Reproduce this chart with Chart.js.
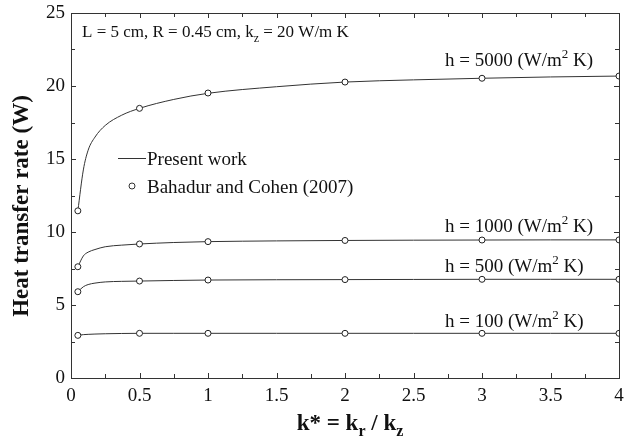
<!DOCTYPE html>
<html>
<head>
<meta charset="utf-8">
<script src="https://cdn.jsdelivr.net/npm/chart.js@4.4.0/dist/chart.umd.min.js"></script>
<style>
  html, body { margin: 0; padding: 0; background: #fff; }
  #wrap { width: 628px; height: 445px; }
</style>
</head>
<body>
<div id="wrap"><canvas id="myChart" width="628" height="445"></canvas></div>
<script>
// Bahadur and Cohen (2007) points
const kStar = [0.05, 0.5, 1, 2, 3, 4];
const bahadur5000 = [11.45, 18.47, 19.52, 20.27, 20.53, 20.68];
const bahadur1000 = [7.62, 9.18, 9.34, 9.42, 9.45, 9.46];
const bahadur500 = [5.91, 6.64, 6.71, 6.74, 6.76, 6.76];
const bahadur100 = [2.92, 3.06, 3.06, 3.06, 3.06, 3.06];

// Present work curves
const kLine = [0.05, 0.09, 0.125, 0.175, 0.25, 0.37, 0.5, 0.75, 1, 1.5, 2, 2.5, 3, 3.5, 4];
const present5000 = [11.45, 14.25, 15.6, 16.5, 17.3, 18.0, 18.47, 19.08, 19.5, 19.95, 20.27, 20.42, 20.53, 20.62, 20.68];
const present1000 = [7.62, 8.36, 8.62, 8.8, 8.99, 9.1, 9.18, 9.28, 9.34, 9.39, 9.42, 9.44, 9.45, 9.46, 9.46];
const present500 = [5.91, 6.25, 6.4, 6.5, 6.58, 6.62, 6.64, 6.68, 6.71, 6.73, 6.74, 6.75, 6.76, 6.76, 6.76];
const present100 = [2.92, 2.97, 2.99, 3.01, 3.03, 3.05, 3.06, 3.06, 3.06, 3.06, 3.06, 3.06, 3.06, 3.06, 3.06];

const xTicks = [0, 0.5, 1, 1.5, 2, 2.5, 3, 3.5, 4];
const xTickLabels = ['0', '0.5', '1', '1.5', '2', '2.5', '3', '3.5', '4'];
const yTicks = [0, 5, 10, 15, 20, 25];

const SERIF = '"Liberation Serif", "Times New Roman", serif';

function pts(xs, ys) {
  return xs.map((x, i) => ({ x: x, y: ys[i] }));
}

function lineSet(ys) {
  return {
    data: pts(kLine, ys),
    borderColor: '#333',
    borderWidth: 1,
    pointRadius: 0,
    cubicInterpolationMode: 'monotone',
    showLine: true,
    clip: 0,
    order: 2
  };
}

function dotSet(ys) {
  return {
    data: pts(kStar, ys),
    showLine: false,
    pointRadius: 3,
    pointBackgroundColor: '#fff',
    pointBorderColor: '#222',
    pointBorderWidth: 1,
    clip: 0,
    order: 1
  };
}

// draws text made of normal / sub / sup parts
function richText(ctx, parts, x, y, size, bold) {
  let cx = x;
  parts.forEach(p => {
    const t = p[0], mode = p[1] || '';
    const s = mode ? Math.round(size * 0.68) : size;
    ctx.font = (bold ? 'bold ' : '') + s + 'px ' + SERIF;
    let dy = 0;
    if (mode === 'sub') dy = size * 0.28;
    if (mode === 'sup') dy = -size * 0.42;
    ctx.fillText(t, cx, y + dy);
    cx += ctx.measureText(t).width;
  });
  return cx - x;
}

function richWidth(ctx, parts, size, bold) {
  let w = 0;
  parts.forEach(p => {
    const s = p[1] ? Math.round(size * 0.68) : size;
    ctx.font = (bold ? 'bold ' : '') + s + 'px ' + SERIF;
    w += ctx.measureText(p[0]).width;
  });
  return w;
}

const decorPlugin = {
  id: 'decor',
  afterDatasetsDraw(chart) {
    const ctx = chart.ctx;
    const a = chart.chartArea;
    const xs = chart.scales.x, ys = chart.scales.y;
    ctx.save();
    ctx.strokeStyle = '#333';
    ctx.lineWidth = 1;
    ctx.strokeRect(Math.round(a.left) + 0.5, Math.round(a.top) + 0.5,
      Math.round(a.right - a.left), Math.round(a.bottom - a.top));

    // inward ticks on all sides
    ctx.beginPath();
    for (let v = 0; v <= 4.001; v += 0.25) {
      const px = Math.round(xs.getPixelForValue(v)) + 0.5;
      const len = (Math.abs(v * 2 - Math.round(v * 2)) < 1e-6) ? 5 : 4;
      ctx.moveTo(px, a.bottom); ctx.lineTo(px, a.bottom - len);
      ctx.moveTo(px, a.top); ctx.lineTo(px, a.top + len);
    }
    for (let v = 0; v <= 25.001; v += 2.5) {
      const py = Math.round(ys.getPixelForValue(v)) + 0.5;
      const len = (Math.abs(v / 5 - Math.round(v / 5)) < 1e-6) ? 5 : 4;
      ctx.moveTo(a.left, py); ctx.lineTo(a.left + len, py);
      ctx.moveTo(a.right, py); ctx.lineTo(a.right - len, py);
    }
    ctx.stroke();

    ctx.fillStyle = '#111';
    ctx.textBaseline = 'alphabetic';
    ctx.textAlign = 'left';

    // top-left annotation
    richText(ctx, [['L = 5 cm, R = 0.45 cm, k'], ['z', 'sub'], [' = 20 W/m K']], 82, 37, 17);

    // curve labels
    const hLabels = [['5000', 66], ['1000', 232], ['500', 272], ['100', 327]];
    hLabels.forEach(l => {
      richText(ctx, [['h = ' + l[0] + ' (W/m'], ['2', 'sup'], [' K)']], 445, l[1], 19);
    });

    // legend
    ctx.beginPath();
    ctx.moveTo(118, 158.5); ctx.lineTo(146, 158.5);
    ctx.stroke();
    ctx.beginPath();
    ctx.fillStyle = '#fff';
    ctx.arc(132, 186, 3, 0, Math.PI * 2);
    ctx.fill();
    ctx.stroke();
    ctx.fillStyle = '#111';
    ctx.font = '19px ' + SERIF;
    ctx.fillText('Present work', 147, 165);
    ctx.fillText('Bahadur and Cohen (2007)', 147, 193);

    // x title
    const xt = [['k* = k', ''], ['r', 'sub'], [' / k', ''], ['z', 'sub']];
    const w = richWidth(ctx, xt, 23, true);
    richText(ctx, xt, 350 - w / 2, 430, 23, true);

    // y title
    ctx.translate(28, 206);
    ctx.rotate(-Math.PI / 2);
    ctx.font = 'bold 23px ' + SERIF;
    ctx.textAlign = 'center';
    ctx.fillText('Heat transfer rate (W)', 0, 0);
    ctx.restore();
  }
};

const ctx = document.getElementById('myChart').getContext('2d');
const chart = new Chart(ctx, {
  type: 'scatter',
  data: {
    datasets: [
      lineSet(present5000), lineSet(present1000), lineSet(present500), lineSet(present100),
      dotSet(bahadur5000), dotSet(bahadur1000), dotSet(bahadur500), dotSet(bahadur100)
    ]
  },
  options: {
    responsive: false,
    animation: false,
    events: [],
    layout: { padding: { left: 0, right: 9, top: 13, bottom: 0 } },
    plugins: { legend: { display: false }, tooltip: { enabled: false } },
    scales: {
      x: {
        type: 'linear', min: 0, max: 4,
        afterBuildTicks: s => { s.ticks = xTicks.map(v => ({ value: v })); },
        afterFit: s => { s.height = 67; s.paddingLeft = 0; s.paddingRight = 0; },
        grid: { display: false, drawTicks: false },
        border: { display: false },
        ticks: { color: '#111', padding: 7, maxRotation: 0, autoSkip: false,
          callback: (v, i) => xTickLabels[i],
          font: { family: SERIF, size: 19 } }
      },
      y: {
        type: 'linear', min: 0, max: 25,
        afterBuildTicks: s => { s.ticks = yTicks.map(v => ({ value: v })); },
        afterFit: s => { s.width = 71; s.paddingTop = 0; s.paddingBottom = 0; },
        grid: { display: false, drawTicks: false },
        border: { display: false },
        ticks: { color: '#111', padding: 6, autoSkip: false,
          font: { family: SERIF, size: 19 } }
      }
    }
  },
  plugins: [decorPlugin]
});
</script>
</body>
</html>
